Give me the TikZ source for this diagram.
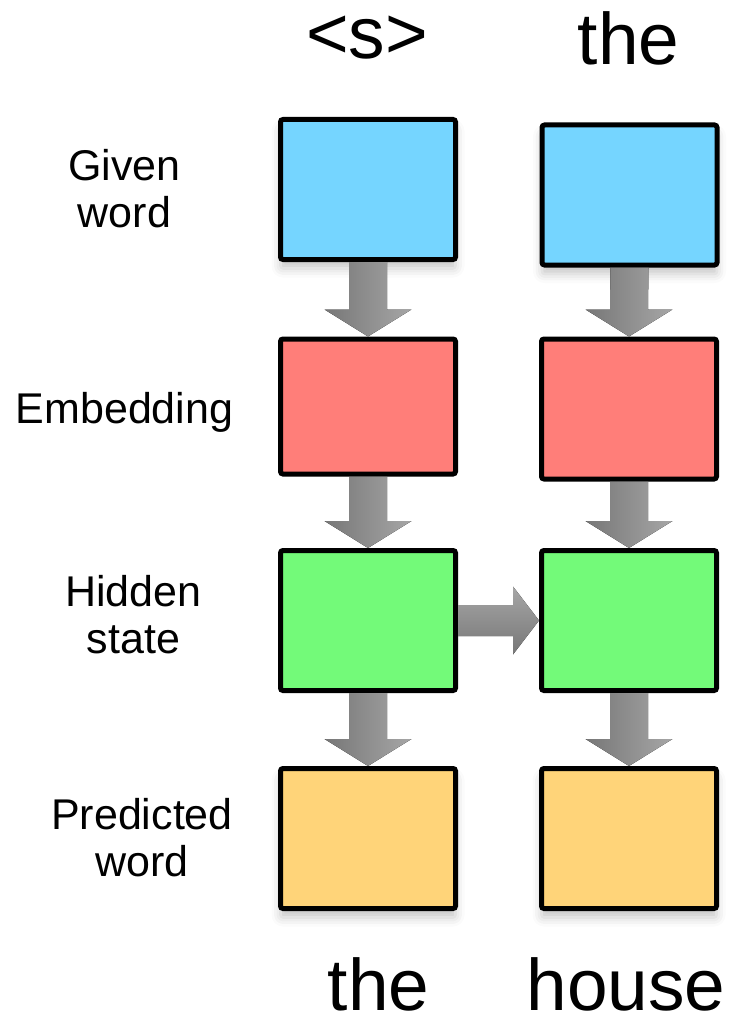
\documentclass[tikz,border=0pt]{standalone}
\usepackage{fontspec}
\setmainfont{Liberation Sans}
\usetikzlibrary{calc,shadows.blur}
\definecolor{cblue}{HTML}{75D5FF}
\definecolor{cred}{HTML}{FF7E79}
\definecolor{cgreen}{HTML}{73FA79}
\definecolor{corange}{HTML}{FFD479}
\definecolor{adark}{HTML}{777777}
\definecolor{alight}{HTML}{A6A6A6}
\tikzset{
  box/.style={draw=black, line width=5pt, rounded corners=2.5pt, minimum width=175pt, minimum height=140pt, inner sep=0pt},
  shad/.style={blur shadow={shadow xshift=0pt, shadow yshift=-9pt, shadow blur radius=9pt, shadow opacity=22}},
  rowlabel/.style={font=\fontsize{43}{47}\selectfont, align=center, inner sep=0pt},
  bigword/.style={font=\fontsize{73}{80}\selectfont, anchor=base, inner sep=0pt},
  varrow/.style={left color=adark, right color=alight},
  harrow/.style={top color=alight, bottom color=adark},
}
\begin{document}
\begin{tikzpicture}[x=1pt,y=-1pt]
\useasboundingbox (0,0) rectangle (735,1027);
% boxes
\node[box, fill=cblue, shad] (given1) at (368,189.5) {};
\node[box, fill=cblue, shad] (given2) at (629.5,195) {};
\node[box, fill=cred, minimum height=135pt] (emb1) at (368,406.5) {};
\node[box, fill=cred] (emb2) at (629,409) {};
\node[box, fill=cgreen] (hid1) at (368,620.5) {};
\node[box, fill=cgreen] (hid2) at (629,620.5) {};
\node[box, fill=corange, shad] (pred1) at (368,838.5) {};
\node[box, fill=corange, shad] (pred2) at (629,838.5) {};
% vertical arrows
\foreach \a/\b in {given1/emb1, emb1/hid1, hid1/pred1, given2/emb2, emb2/hid2, hid2/pred2}{
  \fill[varrow] ($(\a.south)+(-19,0)$) -- ($(\b.north)+(-19,-27)$) -- ($(\b.north)+(-43.5,-27)$)
    -- (\b.north) -- ($(\b.north)+(43.5,-27)$) -- ($(\b.north)+(19,-27)$) -- ($(\a.south)+(19,0)$) -- cycle;
}
% horizontal arrow
\fill[harrow] ($(hid1.east)+(0,-15.5)$) -- ($(hid2.west)+(-26,-15.5)$) -- ($(hid2.west)+(-26,-34)$)
  -- (hid2.west) -- ($(hid2.west)+(-26,34)$) -- ($(hid2.west)+(-26,15.5)$) -- ($(hid1.east)+(0,15.5)$) -- cycle;
% row labels
\node[rowlabel] (lgiven) at (124.5,189) {Given\\word};
\node[rowlabel] (lemb) at (124.5,412) {Embedding};
\node[rowlabel] (lhid) at (133.5,614.5) {Hidden\\state};
\node[rowlabel] (lpred) at (142,837.5) {Predicted\\word};
% words
\node[bigword] (top1) at (367,59) {<s>};
\node[bigword] (top2) at (628.5,65) {the};
\node[bigword] (bot1) at (378.5,1010) {the};
\node[bigword] (bot2) at (626,1010) {house};
\end{tikzpicture}
\end{document}
